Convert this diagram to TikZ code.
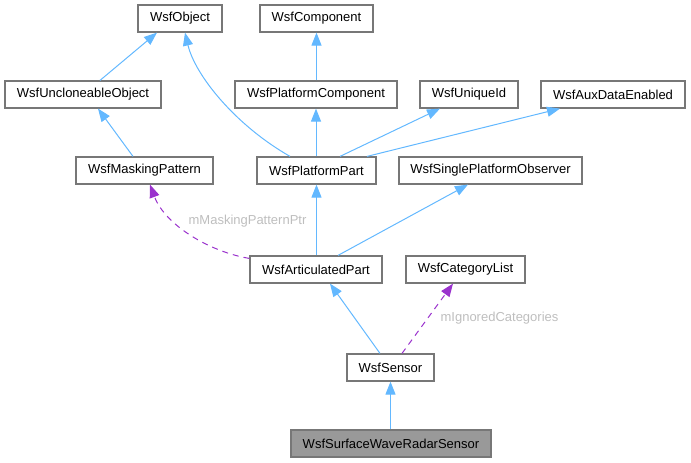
\documentclass[tikz,border=0pt]{standalone}
\usepackage{fontspec}
\setmainfont{Liberation Sans}
\usetikzlibrary{arrows.meta,calc}
\definecolor{edgeblue}{HTML}{63B8FF}
\definecolor{edgepurple}{HTML}{9A32CD}
\definecolor{boxborder}{HTML}{777777}
\definecolor{boxfill}{HTML}{999999}
\definecolor{lblgrey}{HTML}{BEBEBE}
\begin{document}
\begin{tikzpicture}[x=1pt,y=-1pt,
  cls/.style={draw=boxborder,line width=1.2pt,fill=white,minimum height=27pt,inner sep=0pt,font=\fontsize{13}{15}\selectfont,text=black},
  hl/.style={cls,fill=boxfill},
  inh/.style={draw=edgeblue,line width=1pt,-{Triangle[length=13pt,width=10pt]}},
  use/.style={draw=edgepurple,line width=1pt,dash pattern=on 6pt off 5pt,-{Triangle[length=13pt,width=10pt]}},
  lbl/.style={text=lblgrey,font=\fontsize{13}{15}\selectfont,inner sep=0pt}]
\useasboundingbox (0,0) rectangle (691,463);
\node[cls,minimum width=84pt]  (obj)  at (180,18.5) {WsfObject};
\node[cls,minimum width=113pt] (comp) at (316.5,18.5) {WsfComponent};
\node[cls,minimum width=156pt] (unc)  at (83,94.5) {WsfUncloneableObject};
\node[cls,minimum width=162pt] (pc)   at (316,94.5) {WsfPlatformComponent};
\node[cls,minimum width=98pt]  (uid)  at (469,94.5) {WsfUniqueId};
\node[cls,minimum width=144pt] (aux)  at (613,94.5) {WsfAuxDataEnabled};
\node[cls,minimum width=137pt] (mp)   at (144.5,170.5) {WsfMaskingPattern};
\node[cls,minimum width=119pt] (pp)   at (316.5,170.5) {WsfPlatformPart};
\node[cls,minimum width=183pt] (spo)  at (490.5,170.5) {WsfSinglePlatformObserver};
\node[cls,minimum width=132pt] (ap)   at (316,269.5) {WsfArticulatedPart};
\node[cls,minimum width=119pt] (cl)   at (465.5,269.5) {WsfCategoryList};
\node[cls,minimum width=87pt]  (sen)  at (390.5,367.5) {WsfSensor};
\node[hl,minimum width=200pt]  (swr)  at (391,443.5) {WsfSurfaceWaveRadarSensor};

\draw[inh] ([xshift=17pt]unc.north) -- ([xshift=-23pt]obj.south);
\draw[inh] ([xshift=-26.5pt]pp.north) .. controls (235,125) and (195,75) .. ([xshift=5pt]obj.south);
\draw[inh] (pc.north -| comp.south) -- (comp.south);
\draw[inh] (pp.north -| pc.south) -- (pc.south);
\draw[inh] ([xshift=23.5pt]pp.north) -- ([xshift=-29pt]uid.south);
\draw[inh] ([xshift=50.5pt]pp.north) -- ([xshift=-53pt]aux.south);
\draw[inh] ([xshift=-11.5pt]mp.north) -- ([xshift=15pt]unc.south);
\draw[inh] (ap.north -| pp.south) -- (pp.south);
\draw[inh] ([xshift=22pt]ap.north) -- ([xshift=-22.5pt]spo.south);
\draw[use] ([yshift=-3pt]ap.north west) .. controls (210,252) and (165,225) .. ([xshift=5.5pt]mp.south);
\draw[inh] ([xshift=-10.5pt]sen.north) -- ([xshift=14pt]ap.south);
\draw[use] ([xshift=11.5pt]sen.north) -- ([xshift=-12.5pt]cl.south);
\draw[inh] (swr.north -| sen.south) -- (sen.south);

\node[lbl] (l1) at (247.5,221) {mMaskingPatternPtr};
\node[lbl] (l2) at (499.5,318) {mIgnoredCategories};
\end{tikzpicture}
\end{document}
